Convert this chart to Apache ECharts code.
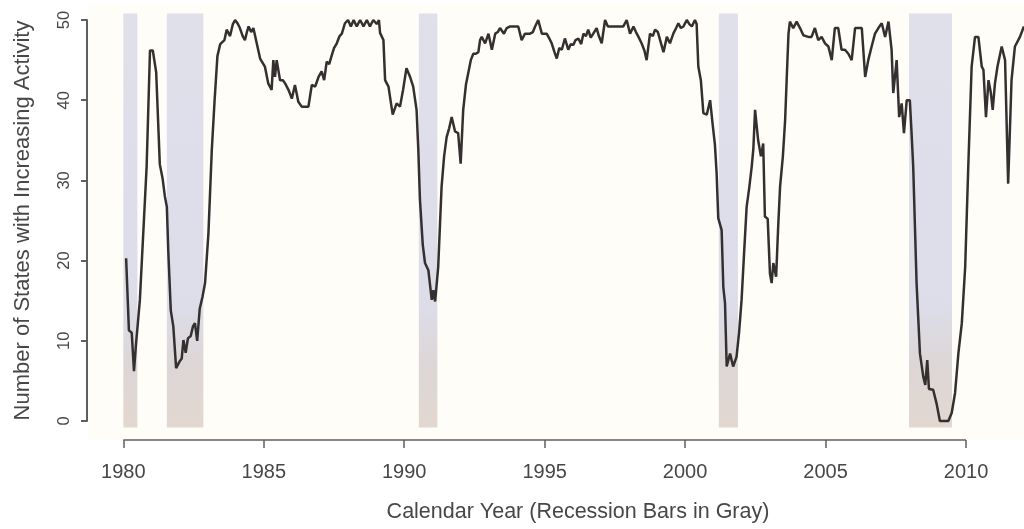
<!DOCTYPE html>
<html>
<head>
<meta charset="utf-8">
<script src="https://cdn.jsdelivr.net/npm/echarts@6/dist/echarts.min.js"></script>
<style>
html,body{margin:0;padding:0;background:#ffffff;}
#chart{width:1024px;height:529px;}
</style>
</head>
<body>
<div id="chart"></div>
<script>
// ---- data ----
const years = [
1980.10,1980.20,1980.30,1980.38,1980.45,1980.59,1980.83,1980.95,1981.05,1981.17,
1981.30,1981.40,1981.48,1981.55,1981.60,1981.69,1981.78,1981.88,1982.00,1982.08,
1982.14,1982.22,1982.30,1982.40,1982.48,1982.55,1982.63,1982.72,1982.82,1982.91,
1983.03,1983.15,1983.25,1983.35,1983.45,1983.60,1983.68,1983.80,1983.90,1983.98,
1984.08,1984.15,1984.25,1984.33,1984.40,1984.46,1984.55,1984.63,1984.75,1984.87,
1985.04,1985.16,1985.28,1985.34,1985.40,1985.46,1985.58,1985.68,1985.76,1985.88,
1986.00,1986.11,1986.23,1986.35,1986.47,1986.59,1986.71,1986.83,1986.95,1987.06,
1987.15,1987.24,1987.33,1987.42,1987.50,1987.60,1987.70,1987.78,1987.89,1988.00,
1988.10,1988.20,1988.31,1988.43,1988.55,1988.67,1988.78,1988.90,1989.02,1989.10,
1989.14,1989.26,1989.32,1989.44,1989.59,1989.73,1989.85,1989.96,1990.08,1990.20,
1990.32,1990.44,1990.50,1990.56,1990.66,1990.74,1990.86,1990.98,1991.04,1991.10,
1991.21,1991.33,1991.42,1991.51,1991.60,1991.69,1991.81,1991.92,1992.01,1992.10,
1992.20,1992.28,1992.37,1992.46,1992.55,1992.64,1992.70,1992.76,1992.82,1992.88,
1993.00,1993.06,1993.12,1993.24,1993.33,1993.41,1993.55,1993.65,1993.77,1993.90,
1994.06,1994.18,1994.30,1994.48,1994.58,1994.66,1994.77,1994.90,1995.07,1995.15,
1995.25,1995.35,1995.43,1995.52,1995.61,1995.72,1995.84,1995.93,1996.02,1996.10,
1996.20,1996.30,1996.38,1996.47,1996.55,1996.64,1996.73,1996.85,1996.93,1997.03,
1997.15,1997.25,1997.33,1997.45,1997.56,1997.68,1997.80,1997.92,1998.04,1998.16,
1998.25,1998.34,1998.45,1998.55,1998.63,1998.75,1998.85,1998.93,1999.03,1999.11,
1999.23,1999.35,1999.46,1999.58,1999.68,1999.76,1999.85,1999.94,2000.06,2000.15,
2000.24,2000.35,2000.41,2000.47,2000.56,2000.65,2000.77,2000.89,2000.98,2001.06,
2001.12,2001.18,2001.30,2001.36,2001.42,2001.48,2001.60,2001.71,2001.83,2001.92,
2002.01,2002.10,2002.19,2002.28,2002.37,2002.43,2002.49,2002.60,2002.70,2002.78,
2002.84,2002.94,2003.02,2003.08,2003.14,2003.24,2003.31,2003.38,2003.48,2003.56,
2003.62,2003.68,2003.73,2003.85,2003.97,2004.09,2004.21,2004.30,2004.39,2004.50,
2004.62,2004.74,2004.86,2004.98,2005.10,2005.22,2005.33,2005.45,2005.57,2005.69,
2005.81,2005.93,2006.05,2006.17,2006.29,2006.41,2006.52,2006.64,2006.76,2006.88,
2007.00,2007.12,2007.24,2007.35,2007.41,2007.53,2007.62,2007.71,2007.79,2007.89,
2008.00,2008.06,2008.12,2008.24,2008.36,2008.48,2008.55,2008.62,2008.68,2008.83,
2008.95,2009.07,2009.19,2009.37,2009.49,2009.61,2009.73,2009.85,2009.97,2010.08,
2010.20,2010.32,2010.44,2010.56,2010.62,2010.71,2010.80,2010.88,2010.95,2011.03,
2011.12,2011.27,2011.39,2011.50,2011.62,2011.74,2011.92,2012.06
];
const states = [
20.3,11.3,11.0,6.2,9.5,15.1,31.7,46.2,46.2,43.5,
32.0,30.2,28.0,26.7,21.3,13.8,11.8,6.6,7.4,7.8,
10.1,8.5,10.3,10.6,11.8,12.2,10.0,14.0,15.5,17.2,
23.4,33.8,40.0,45.5,47.0,47.5,48.8,48.0,49.5,50.0,
49.5,49.0,48.0,47.5,48.5,49.2,48.5,49.0,47.1,45.2,
44.2,42.1,41.3,45.0,42.9,45.0,42.5,42.5,42.1,41.3,
40.2,41.9,39.8,39.2,39.2,39.2,41.9,41.7,42.9,43.6,
42.5,44.8,44.5,45.6,46.5,47.1,48.0,48.3,49.6,50.0,
49.2,50.0,49.2,50.0,49.2,50.0,49.2,50.0,49.5,50.0,
48.4,47.5,42.5,41.7,38.2,39.6,39.2,41.3,44.0,43.0,
41.7,38.8,34.0,27.6,22.0,19.7,18.8,15.1,16.3,14.9,
19.2,29.2,33.0,35.4,36.5,37.9,36.1,35.9,32.1,38.8,
42.0,43.4,45.0,45.8,45.8,46.0,47.5,47.9,47.5,47.1,
48.3,48.3,46.3,48.3,48.5,49.0,48.3,49.0,49.2,49.2,
49.2,47.5,48.3,48.3,48.5,49.2,50.0,48.3,48.3,47.8,
47.1,46.0,45.2,46.5,46.3,47.7,46.3,47.0,46.9,47.5,
47.7,47.0,48.3,48.0,48.8,47.8,48.3,49.0,48.0,47.1,
50.0,49.2,49.2,49.2,49.2,49.2,49.2,50.0,48.3,49.2,
48.5,47.9,47.1,46.2,45.0,48.3,48.0,48.8,48.5,47.5,
46.0,47.9,47.1,48.3,49.0,49.6,49.0,49.2,50.0,49.5,
49.2,50.0,49.5,44.2,42.5,38.4,38.2,40.0,37.0,34.5,
31.0,25.3,23.8,16.7,14.7,6.8,8.4,6.8,8.0,11.0,
15.1,21.0,26.7,29.0,31.7,34.0,38.8,35.0,33.0,34.6,
25.5,25.2,18.4,17.2,19.7,18.0,24.0,29.2,33.0,37.5,
43.0,48.3,49.8,49.0,49.8,49.0,48.1,48.0,47.9,47.9,
49.0,47.5,47.9,47.1,46.7,45.0,49.0,49.0,46.3,46.3,
45.8,45.0,49.0,49.0,49.0,42.9,45.0,46.7,48.3,49.0,
49.6,47.9,49.8,46.3,40.9,45.0,37.9,39.6,35.9,40.0,
40.0,36.0,31.7,17.2,8.4,5.5,4.5,7.6,4.0,3.9,
2.2,0.0,0.0,0.0,1.0,3.5,8.5,12.2,19.2,31.7,
44.2,47.9,47.9,44.2,43.8,37.9,42.5,41.0,38.8,42.1,
44.2,46.7,45.0,29.6,42.5,46.7,47.9,49.2
];
const recessionStart = [1980.00, 1981.55, 1990.52, 2001.20, 2007.97];
const recessionEnd   = [1980.50, 1982.85, 1991.18, 2001.88, 2009.50];
const barBottom = -0.8, barTop = 50.8;
const xTicks = [1980, 1985, 1990, 1995, 2000, 2005, 2010];
const yTicks = [0, 10, 20, 30, 40, 50];
const xTitle = 'Calendar Year (Recession Bars in Gray)';
const yTitle = 'Number of States with Increasing Activity';

// ---- axis extents (R-style padded plot region) ----
const X_MIN = 1978.743, X_MAX = 2012.064;
const Y_MIN = -2.37, Y_MAX = 52.0;

const FONT = "'Liberation Sans', Arial, Helvetica, sans-serif";
const TEXT = '#474747';
const AXIS = '#5f5f5f';

const chart = echarts.init(document.getElementById('chart'));

const lineData = years.map((y, i) => [y, states[i]]);
const recData = recessionStart.map((s, i) => [s, recessionEnd[i]]);
const xAxisSeg = [[xTicks[0], Y_MIN], [xTicks[xTicks.length - 1], Y_MIN]];

chart.setOption({
  animation: false,
  grid: [
    // data region (starts just right of the R y axis)
    {left: 88, right: 0, top: 4, bottom: 89, show: false, outerBoundsMode: 'none'},
    // R-style y axis: a line exactly across the tick range 0..50
    {left: 87, width: 100, top: 20, bottom: 108, show: false, outerBoundsMode: 'none'}
  ],
  xAxis: [
    {
      type: 'value', min: X_MIN, max: X_MAX, gridIndex: 0,
      axisLine: {show: false, onZero: false},
      splitLine: {show: false},
      axisTick: {show: true, customValues: xTicks, length: 8, lineStyle: {color: AXIS, width: 1.5}},
      axisLabel: {customValues: xTicks, fontSize: 20, color: TEXT, fontFamily: FONT, margin: 22,
        formatter: v => String(v)}
    },
    {type: 'value', gridIndex: 1, min: 0, max: 1, show: false}
  ],
  yAxis: [
    {
      type: 'value', min: Y_MIN, max: Y_MAX, gridIndex: 0,
      show: false
    },
    {
      type: 'value', gridIndex: 1, min: yTicks[0], max: yTicks[yTicks.length - 1], interval: 10,
      name: yTitle, nameLocation: 'middle', nameRotate: 90, nameGap: 53,
      nameTextStyle: {fontSize: 22, color: TEXT, fontFamily: FONT},
      axisLine: {show: true, onZero: false, lineStyle: {color: AXIS, width: 2}},
      splitLine: {show: false},
      axisTick: {show: true, length: 6, lineStyle: {color: AXIS, width: 2}},
      axisLabel: {fontSize: 16.5, color: TEXT, fontFamily: FONT, margin: 14, rotate: 90,
        formatter: v => String(v)}
    }
  ],
  graphic: [
    {type: 'rect', silent: true, z: -10,
      shape: {x: 88, y: 4, width: 936, height: 436},
      style: {fill: '#fffdf8'}},
    {type: 'text', x: 578, y: 512, silent: true,
      style: {text: xTitle, fontSize: 21.5, fontFamily: FONT, fill: TEXT, align: 'center', verticalAlign: 'middle'}}
  ],
  series: [
    {
      type: 'custom', z: 1, xAxisIndex: 0, yAxisIndex: 0,
      data: recData,
      encode: {x: [0, 1]},
      renderItem: function (params, api) {
        const p0 = api.coord([api.value(0), barTop]);
        const p1 = api.coord([api.value(1), barBottom]);
        return {
          type: 'rect',
          shape: {x: p0[0], y: p0[1], width: p1[0] - p0[0], height: p1[1] - p0[1]},
          style: {
            fill: new echarts.graphic.LinearGradient(0, 0, 0, 1, [
              {offset: 0, color: '#dfe0ea'},
              {offset: 0.7, color: '#dcdde9'},
              {offset: 0.85, color: '#ddd6d6'},
              {offset: 1, color: '#e2d8d0'}
            ])
          }
        };
      }
    },
    {
      type: 'line', xAxisIndex: 0, yAxisIndex: 0, data: lineData, showSymbol: false,
      lineStyle: {color: '#353030', width: 2.5}
    },
    {
      type: 'line', xAxisIndex: 0, yAxisIndex: 0, data: xAxisSeg, showSymbol: false, clip: false,
      lineStyle: {color: AXIS, width: 1.5}
    }
  ]
});
</script>
</body>
</html>
